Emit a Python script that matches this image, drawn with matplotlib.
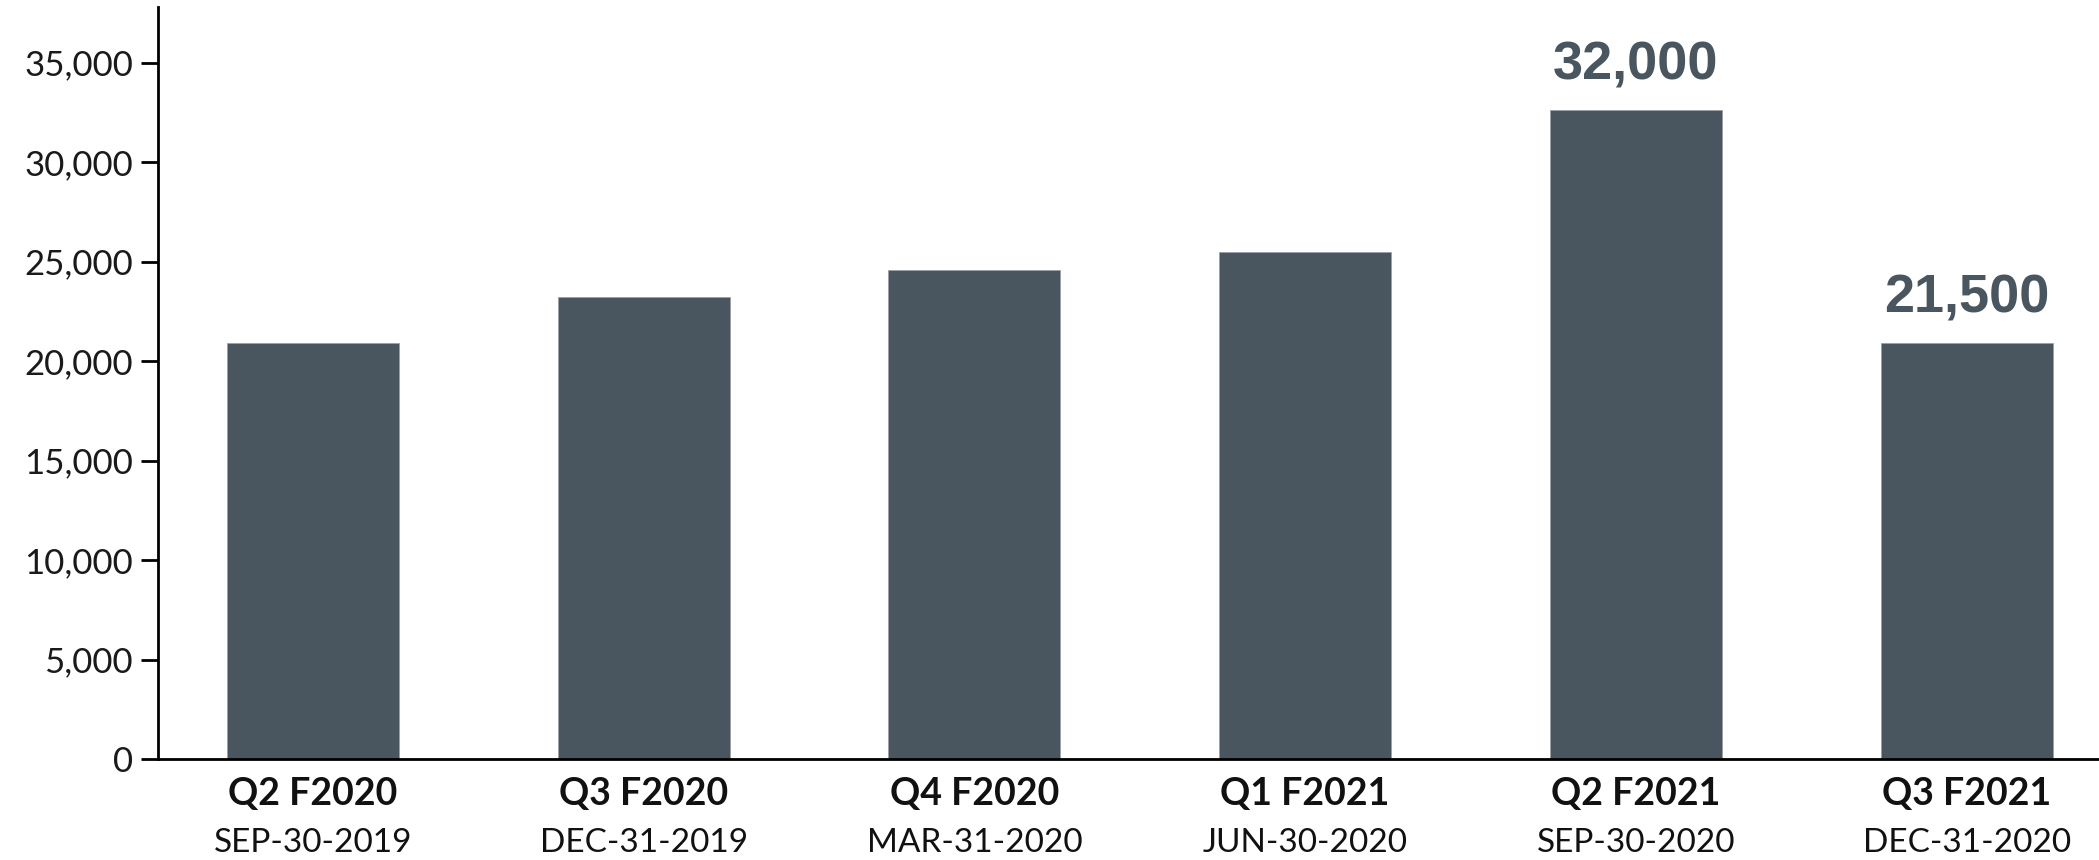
import matplotlib.pyplot as plt
from matplotlib.transforms import blended_transform_factory

plt.rcParams["font.family"] = ["Lato", "DejaVu Sans"]

quarters = ["Q2 F2020", "Q3 F2020", "Q4 F2020", "Q1 F2021", "Q2 F2021", "Q3 F2021"]
dates = ["SEP-30-2019", "DEC-31-2019", "MAR-31-2020", "JUN-30-2020", "SEP-30-2020", "DEC-31-2020"]
values = [20900, 23200, 24600, 25500, 32600, 20900]
value_labels = ["", "", "", "", "32,000", "21,500"]
y_ticks = [0, 5000, 10000, 15000, 20000, 25000, 30000, 35000]

bar_color = "#4a565f"

fig = plt.figure(figsize=(20.99, 8.6), dpi=100)
ax = fig.add_axes([0.0753, 0.1174, 0.9247, 0.8745])

x = range(len(quarters))
bars = ax.bar(x, values, width=0.52, color=bar_color, edgecolor="#9aa0a5", linewidth=0.6)

# value callouts above the last two bars
for rect, lab in zip(bars, value_labels):
    if lab:
        ax.annotate(lab, (rect.get_x() + rect.get_width() / 2, rect.get_height()),
                    xytext=(0, 14), textcoords="offset points", ha="center", va="bottom",
                    fontsize=39, fontweight="bold", color=bar_color,
                    family=["Liberation Sans", "DejaVu Sans"])

ax.set_xlim(-0.468, 5.4)
ax.set_ylim(0, 37800)
ax.set_yticks(y_ticks)
ax.set_yticklabels([f"{v:,}" for v in y_ticks], fontsize=25, color="#1a1a1a")

ax.set_xticks(list(x))
ax.set_xticklabels(quarters, fontsize=27, fontweight="bold", color="#111111")
ax.tick_params(axis="x", length=0, pad=13)
ax.tick_params(axis="y", length=12, width=2, pad=6)

# second line of the category labels (regular weight)
trans = blended_transform_factory(ax.transData, ax.transAxes)
for i, d in enumerate(dates):
    ax.text(i, -0.111, d, transform=trans, ha="center", va="center",
            fontsize=24, color="#111111")

for side in ["top", "right"]:
    ax.spines[side].set_visible(False)
for side in ["left", "bottom"]:
    ax.spines[side].set_linewidth(2)
    ax.spines[side].set_color("black")

fig.savefig("out.png", dpi=100)
